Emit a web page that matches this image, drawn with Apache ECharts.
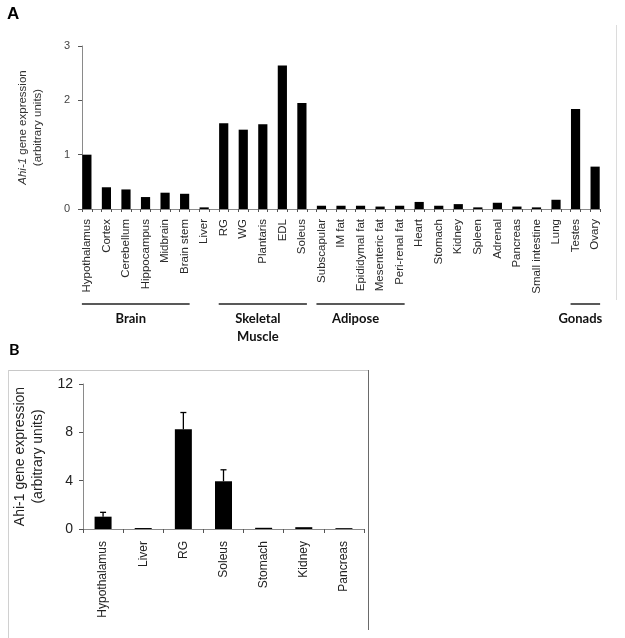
<!DOCTYPE html>
<html>
<head>
<meta charset="utf-8">
<script src="https://cdn.jsdelivr.net/npm/echarts@6/dist/echarts.min.js"></script>
<style>
html,body{margin:0;padding:0;background:#fff;}
#main{width:625px;height:638px;}
</style>
</head>
<body>
<div id="main"></div>
<script>
// ---------- Panel A data ----------
var tissuesA = ['Hypothalamus','Cortex','Cerebellum','Hippocampus','Midbrain','Brain stem','Liver',
  'RG','WG','Plantaris','EDL','Soleus',
  'Subscapular','IM fat','Epididymal fat','Mesenteric fat','Peri-renal fat',
  'Heart','Stomach','Kidney','Spleen','Adrenal','Pancreas','Small intestine','Lung','Testes','Ovary'];
var valuesA = [1.0,0.40,0.36,0.22,0.30,0.28,0.03,
  1.58,1.46,1.56,2.64,1.95,
  0.06,0.06,0.06,0.045,0.06,
  0.13,0.06,0.09,0.03,0.115,0.045,0.03,0.17,1.84,0.78];
var yTicksA = [0,1,2,3];

// tissue groups (index ranges into tissuesA)
var groupNames = ['Brain','Skeletal\nMuscle','Adipose','Gonads'];
var groupStart = [0,7,12,25];
var groupEnd   = [5,11,16,26];

// ---------- Panel B data ----------
var tissuesB = ['Hypothalamus','Liver','RG','Soleus','Stomach','Kidney','Pancreas'];
var valuesB = [1.02,0.08,8.25,3.95,0.10,0.15,0.07];
var errorsB = [0.36,0,1.39,0.95,0,0,0];
var yTicksB = [0,4,8,12];

// Panel A uses interleaved slots: each tissue followed by an empty slot
var slotsA = [], slotValsA = [];
for (var i = 0; i < tissuesA.length; i++) {
  slotsA.push(tissuesA[i]); slotValsA.push(valuesA[i]);
  if (i < tissuesA.length - 1) { slotsA.push(''); slotValsA.push('-'); }
}

var chart = echarts.init(document.getElementById('main'), null, {renderer:'canvas'});
var axisGray = '#8a8a8a';
var font = 'Liberation Sans, Arial, sans-serif';

var option = {
  animation: false,
  backgroundColor: '#fff',
  grid: [
    {left: 82, top: 46, width: 518, height: 163},
    {left: 83, top: 384, width: 281, height: 145}
  ],
  xAxis: [
    {
      type: 'category', gridIndex: 0, data: slotsA, boundaryGap: true,
      axisLine: {lineStyle: {color: axisGray, width: 1}},
      axisTick: {show: true, interval: 0, length: 3, lineStyle: {color: '#555'}},
      axisLabel: {interval: 0, rotate: 90, fontSize: 11.5, color: '#2a2a2a', margin: 10, fontFamily: font}
    },
    {
      type: 'category', gridIndex: 1, data: tissuesB, boundaryGap: true,
      axisLine: {lineStyle: {color: axisGray, width: 1}},
      axisTick: {show: true, interval: 0, length: 4, lineStyle: {color: '#555'}},
      axisLabel: {interval: 0, rotate: 90, fontSize: 12, color: '#222', margin: 12, fontFamily: font}
    }
  ],
  yAxis: [
    {
      type: 'value', gridIndex: 0, min: yTicksA[0], max: yTicksA[yTicksA.length-1], interval: 1,
      splitLine: {show: false},
      axisLine: {show: true, lineStyle: {color: axisGray}},
      axisTick: {show: true, length: 4, lineStyle: {color: '#555'}},
      axisLabel: {fontSize: 11, color: '#444', margin: 12, fontFamily: font},
      name: '{i|Ahi-1} gene expression\n(arbitrary units)',
      nameLocation: 'middle', nameRotate: 90, nameGap: 37,
      nameTextStyle: {fontSize: 11.5, color: '#333', fontFamily: font, lineHeight: 15,
        rich: {i: {fontStyle: 'italic', fontSize: 11.5, color: '#333', fontFamily: font, lineHeight: 15}}}
    },
    {
      type: 'value', gridIndex: 1, min: yTicksB[0], max: yTicksB[yTicksB.length-1], interval: 4,
      splitLine: {show: false},
      axisLine: {show: true, lineStyle: {color: axisGray}},
      axisTick: {show: true, length: 4, lineStyle: {color: '#555'}},
      axisLabel: {fontSize: 14, color: '#222', margin: 10, fontFamily: font},
      name: 'Ahi-1 gene expression\n(arbitrary units)',
      nameLocation: 'middle', nameRotate: 90, nameGap: 36,
      nameTextStyle: {fontSize: 14, color: '#222', fontFamily: font, lineHeight: 18}
    }
  ],
  series: [
    {
      type: 'bar', xAxisIndex: 0, yAxisIndex: 0, data: slotValsA,
      barCategoryGap: '6%', itemStyle: {color: '#000'}
    },
    {
      type: 'bar', xAxisIndex: 1, yAxisIndex: 1, data: valuesB,
      barWidth: 17, itemStyle: {color: '#000'}
    },
    {
      type: 'custom', xAxisIndex: 1, yAxisIndex: 1,
      data: valuesB.map(function (v, i) { return [i, v, v + errorsB[i]]; }),
      renderItem: function (params, api) {
        if (api.value(2) - api.value(1) <= 0) return null;
        var p0 = api.coord([api.value(0), api.value(1)]);
        var p1 = api.coord([api.value(0), api.value(2)]);
        var hw = 3;
        return {
          type: 'group',
          children: [
            {type: 'line', shape: {x1: p0[0], y1: p0[1], x2: p1[0], y2: p1[1]}, style: {stroke: '#000', lineWidth: 1.3}},
            {type: 'line', shape: {x1: p1[0]-hw, y1: p1[1], x2: p1[0]+hw, y2: p1[1]}, style: {stroke: '#000', lineWidth: 1.3}}
          ]
        };
      },
      z: 5
    }
  ]
};
chart.setOption(option);

// ---------- annotations ----------
var g = [];
g.push({type: 'text', left: 7, top: 6, style: {text: 'A', font: 'bold 17px Liberation Sans, Arial', fill: '#000'}});
g.push({type: 'text', left: 9, top: 342, style: {text: 'B', font: 'bold 16px Lato, sans-serif', fill: '#000'}});
// faint frame edge on the right of panel A
g.push({type: 'line', shape: {x1: 616.5, y1: 25, x2: 616.5, y2: 300}, style: {stroke: '#dcdcdc', lineWidth: 1}});
// frame of panel B
g.push({type: 'line', shape: {x1: 8, y1: 370.5, x2: 368, y2: 370.5}, style: {stroke: '#c8c8c8', lineWidth: 1}});
g.push({type: 'line', shape: {x1: 8.5, y1: 370, x2: 8.5, y2: 638}, style: {stroke: '#d0d0d0', lineWidth: 1}});
g.push({type: 'line', shape: {x1: 368.5, y1: 370, x2: 368.5, y2: 630}, style: {stroke: '#6a6a6a', lineWidth: 1}});

for (var k = 0; k < groupNames.length; k++) {
  var xa = chart.convertToPixel({xAxisIndex: 0}, groupStart[k] * 2);
  var xb = chart.convertToPixel({xAxisIndex: 0}, groupEnd[k] * 2);
  var x1 = xa - 5, x2 = xb + 5;
  g.push({type: 'line', shape: {x1: x1, y1: 304, x2: x2, y2: 304}, style: {stroke: '#222', lineWidth: 1.5}});
  g.push({type: 'text', x: (x1 + x2) / 2 - 5, y: 310,
    style: {text: groupNames[k], font: 'bold 13px Lato, sans-serif', fill: '#111', align: 'center', verticalAlign: 'top', lineHeight: 18}});
}
chart.setOption({graphic: g});
</script>
</body>
</html>
